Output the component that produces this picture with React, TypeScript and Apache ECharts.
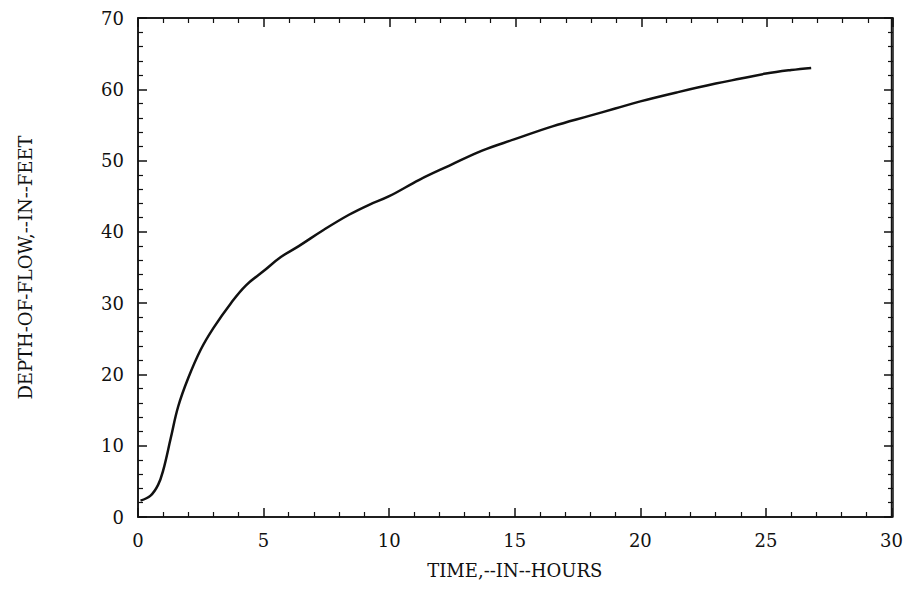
import { useEffect, useRef } from 'react';
import * as echarts from 'echarts';

// time in hours, depth in feet
const hours = [0.1, 0.5, 0.8, 1.0, 1.3, 1.6, 2.0, 2.5, 3.0, 3.7, 4.3, 5.0, 5.7, 6.4, 7.4, 8.4, 9.2, 10, 11.2, 12.4, 13.7, 15, 16.5, 18, 19, 20, 21.5, 23, 24, 25, 26, 26.8];
const depth = [2.3, 3.0, 4.5, 6.5, 11.0, 15.5, 19.5, 23.5, 26.5, 30.0, 32.5, 34.5, 36.5, 38.0, 40.3, 42.4, 43.8, 45.0, 47.3, 49.3, 51.4, 53.0, 54.8, 56.3, 57.3, 58.3, 59.6, 60.8, 61.5, 62.2, 62.7, 63.0];

const xTicks = [0, 5, 10, 15, 20, 25, 30];
const yTicks = [0, 10, 20, 30, 40, 50, 60, 70];

const FONT = '"DejaVu Serif", "Liberation Serif", serif';

export default function App() {
  const ref = useRef<HTMLDivElement>(null);

  useEffect(() => {
    if (!ref.current) return;
    const chart = echarts.init(ref.current, null, { renderer: 'svg' });

    const line = { show: true, lineStyle: { color: '#111', width: 1.5 } };
    const tick = { show: true, inside: true, length: 9, lineStyle: { color: '#111', width: 1.5 } };
    const minor = { show: true, splitNumber: 5, length: 5, lineStyle: { color: '#111', width: 1.2 } };
    const label = { color: '#111', fontSize: 18, fontFamily: FONT, margin: 14 };

    const xBase = { type: 'value' as const, min: 0, max: 30, interval: 5, axisLine: line, axisTick: tick, minorTick: minor, splitLine: { show: false } };
    const yBase = { type: 'value' as const, min: 0, max: 70, interval: 10, axisLine: line, axisTick: tick, minorTick: minor, splitLine: { show: false } };
    const box = { left: 130, right: 13, top: 10, bottom: 87 };

    chart.setOption({
      animation: false,
      backgroundColor: '#fff',
      // second grid over the same area, with inverted axes, gives the mirrored top and right ticks
      grid: [
        { ...box, show: true, borderColor: '#111', borderWidth: 1.5 },
        { ...box },
      ],
      xAxis: [
        {
          ...xBase,
          gridIndex: 0,
          axisLabel: { ...label, formatter: (v: number) => (xTicks.includes(v) ? String(v) : '') },
          name: 'TIME,--IN--HOURS',
          nameLocation: 'middle',
          nameGap: 44,
          nameTextStyle: { color: '#111', fontSize: 18, fontFamily: FONT },
        },
        { ...xBase, gridIndex: 1, inverse: true, position: 'top', axisLabel: { show: false } },
      ],
      yAxis: [
        {
          ...yBase,
          gridIndex: 0,
          axisLabel: { ...label, formatter: (v: number) => (yTicks.includes(v) ? String(v) : '') },
          name: 'DEPTH-OF-FLOW,--IN--FEET',
          nameLocation: 'middle',
          nameGap: 104,
          nameTextStyle: { color: '#111', fontSize: 18, fontFamily: FONT },
        },
        { ...yBase, gridIndex: 1, inverse: true, position: 'right', axisLabel: { show: false } },
      ],
      series: [
        {
          type: 'line',
          xAxisIndex: 0,
          yAxisIndex: 0,
          data: hours.map((h, i) => [h, depth[i]]),
          smooth: 0.4,
          showSymbol: false,
          lineStyle: { color: '#111', width: 2.5 },
        },
        { type: 'line', xAxisIndex: 1, yAxisIndex: 1, data: [], showSymbol: false },
      ],
    });

    return () => chart.dispose();
  }, []);

  return <div ref={ref} style={{ width: 898, height: 596 }} />;
}
